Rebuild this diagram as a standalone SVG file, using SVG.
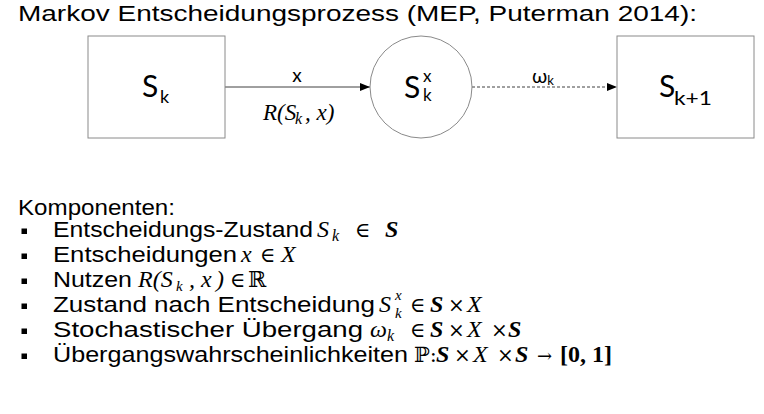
<svg xmlns="http://www.w3.org/2000/svg" width="764" height="414" viewBox="0 0 764 414">
<defs>
<style>
.sans{font-family:"Liberation Sans",Arial,sans-serif;fill:#000}
.lato{font-family:Lato,"Open Sans",sans-serif;fill:#000}
.m{font-family:"Liberation Serif","DejaVu Serif",serif;font-style:italic;fill:#000}
.mu{font-family:"DejaVu Serif","Liberation Serif",serif;font-style:normal;fill:#000}
.mb{font-family:"Liberation Serif","DejaVu Serif",serif;font-style:italic;font-weight:bold;fill:#000}
.mbu{font-family:"Liberation Serif","DejaVu Serif",serif;font-weight:bold;fill:#000}
.node{fill:#fff;stroke:#8a8a8a;stroke-width:1}
.edge{stroke:#404040;stroke-width:1;fill:none}
.dash{stroke-dasharray:3 2}
.bul{fill:#000}
</style>
<marker id="ah" viewBox="0 0 10 8" refX="10" refY="4" markerWidth="10" markerHeight="8" markerUnits="userSpaceOnUse" orient="auto">
<path d="M0,0 L10,4 L0,8 z" fill="#000"/>
</marker>
</defs>
<rect width="764" height="414" fill="#fff"/>
<text class="sans" x="18" y="21" font-size="22.5" textLength="679" lengthAdjust="spacingAndGlyphs">Markov Entscheidungsprozess (MEP, Puterman 2014):</text>

<g id="connectors">
<line class="edge" x1="225" y1="87" x2="370" y2="87" marker-end="url(#ah)"/>
<line class="edge dash" x1="472" y1="87" x2="617" y2="87" marker-end="url(#ah)"/>
<text class="lato" x="297" y="82" font-size="19" text-anchor="middle">x</text>
<text class="m" x="263" y="120" font-size="23">R(S<tspan x="295" y="124" font-size="16">k</tspan><tspan x="305" y="120">, x)</tspan></text>
<text class="lato" x="532" y="83" font-size="20">ω<tspan font-size="13" dy="2">k</tspan></text>
</g>

<g id="node-sk">
<rect class="node" x="88" y="36" width="137" height="102"/>
<text class="lato" x="142" y="97" font-size="30">S</text>
<text class="lato" x="160" y="103" font-size="18">k</text>
</g>
<g id="node-skx">
<circle class="node" cx="421" cy="87" r="51"/>
<text class="lato" x="404" y="98" font-size="30">S</text>
<text class="lato" x="423" y="82" font-size="17">x</text>
<text class="lato" x="423" y="101" font-size="17">k</text>
</g>
<g id="node-sk1">
<rect class="node" x="617" y="36" width="137" height="102"/>
<text class="lato" x="659" y="97" font-size="30">S</text>
<text class="lato" x="674" y="105" font-size="19" textLength="38" lengthAdjust="spacingAndGlyphs">k+1</text>
</g>

<g id="list">
<text class="sans" x="18" y="215" font-size="22" textLength="157" lengthAdjust="spacingAndGlyphs">Komponenten:</text>
<rect class="bul" x="21.5" y="228.5" width="5.5" height="5.5"/>
<rect class="bul" x="21.5" y="253.5" width="5.5" height="5.5"/>
<rect class="bul" x="21.5" y="278.5" width="5.5" height="5.5"/>
<rect class="bul" x="21.5" y="303.5" width="5.5" height="5.5"/>
<rect class="bul" x="21.5" y="328.5" width="5.5" height="5.5"/>
<rect class="bul" x="21.5" y="353.5" width="5.5" height="5.5"/>

<text class="sans" x="53" y="237" font-size="22" textLength="260" lengthAdjust="spacingAndGlyphs">Entscheidungs-Zustand</text>
<text class="m" x="317" y="237" font-size="24">S<tspan x="332" y="241" font-size="16">k</tspan></text>
<text class="mu" x="355" y="237" font-size="21">∈</text>
<text class="mb" x="385" y="237" font-size="24">S</text>

<text class="sans" x="53" y="262" font-size="22" textLength="184" lengthAdjust="spacingAndGlyphs">Entscheidungen</text>
<text class="m" x="241" y="262" font-size="24">x</text>
<text class="mu" x="260" y="262" font-size="21">∈</text>
<text class="m" x="281" y="262" font-size="24">X</text>

<text class="sans" x="53" y="287" font-size="22" textLength="79" lengthAdjust="spacingAndGlyphs">Nutzen</text>
<text class="m" x="138" y="287" font-size="24">R(S<tspan x="176" y="291" font-size="15">k</tspan><tspan x="189" y="287">,</tspan><tspan x="201">x</tspan><tspan x="216">)</tspan></text>
<text class="mu" x="230" y="287" font-size="21">∈</text>
<text class="mu" x="248" y="287" font-size="22">ℝ</text>

<text class="sans" x="53" y="312" font-size="22" textLength="322" lengthAdjust="spacingAndGlyphs">Zustand nach Entscheidung</text>
<text class="m" x="379" y="312" font-size="24">S<tspan x="395" y="300" font-size="15">x</tspan><tspan x="395" y="318" font-size="15">k</tspan></text>
<text class="mu" x="410" y="312" font-size="21">∈</text>
<text class="mb" x="430" y="312" font-size="24">S</text>
<text class="mu" x="448" y="312" font-size="20">×</text>
<text class="m" x="467" y="312" font-size="24">X</text>

<text class="sans" x="53" y="337" font-size="22" textLength="310" lengthAdjust="spacingAndGlyphs">Stochastischer Übergang</text>
<text class="m" x="370" y="337" font-size="24">ω<tspan x="387" y="341" font-size="16">k</tspan></text>
<text class="mu" x="410" y="337" font-size="21">∈</text>
<text class="mb" x="430" y="337" font-size="24">S</text>
<text class="mu" x="448" y="337" font-size="20">×</text>
<text class="m" x="467" y="337" font-size="24">X</text>
<text class="mu" x="491" y="337" font-size="20">×</text>
<text class="mb" x="508" y="337" font-size="24">S</text>

<text class="sans" x="53" y="362" font-size="22" textLength="355" lengthAdjust="spacingAndGlyphs">Übergangswahrscheinlichkeiten</text>
<text class="mu" x="414" y="362" font-size="21">ℙ:</text>
<text class="mb" x="436" y="362" font-size="24">S</text>
<text class="mu" x="454" y="362" font-size="20">×</text>
<text class="m" x="473" y="362" font-size="24">X</text>
<text class="mu" x="497" y="362" font-size="20">×</text>
<text class="mb" x="515" y="362" font-size="24">S</text>
<text class="mu" x="537" y="362" font-size="18">→</text>
<text class="mbu" x="560" y="362" font-size="24">[0, 1]</text>
</g>
</svg>
